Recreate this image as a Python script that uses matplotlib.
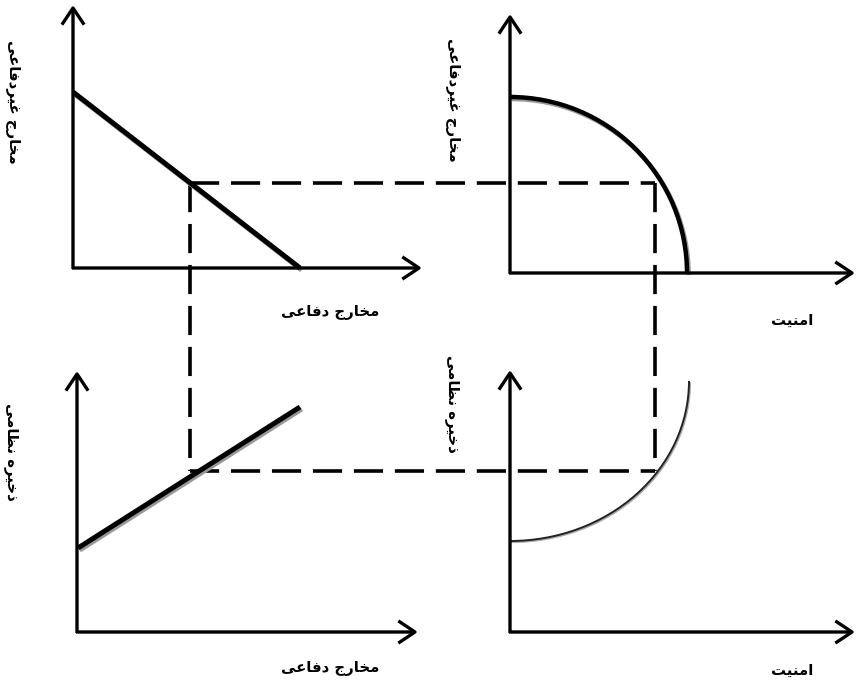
import matplotlib
matplotlib.use("Agg")
import matplotlib.pyplot as plt
import matplotlib.patheffects as pe
from matplotlib.patches import Arc

plt.rcParams['font.family'] = ['DejaVu Sans']
plt.rcParams['lines.scale_dashes'] = False

# --- diagram data (canvas units, y grows downwards) ---
# axes of the four panels: origin x, origin y, x-arrow tip, y-arrow tip
panel_origin_x = [73, 510, 77, 510]
panel_origin_y = [268, 273, 632, 632]
panel_xtip = [422, 855, 418, 855]
panel_ytip = [5, 14, 371, 370]

# top-left: defence vs non-defence spending
spend_x = [73, 300]
nondef_y = [92, 268]
# bottom-left: defence spending vs military stock
stock_x = [78, 300]
stock_y = [548, 407]

# top-right: security frontier (quarter ellipse)
frontier_center = (510, 273)
frontier_rx, frontier_ry = 177, 176
# bottom-right: security vs military stock (quarter ellipse)
stock_curve_center = (510, 381)
stock_curve_rx, stock_curve_ry = 179, 160

# dashed projection rectangle
guide_x = [190, 655]
guide_y = [183, 471]

# labels
lbl_nondef = "مخارج غیردفاعی"
lbl_def = "مخارج دفاعی"
lbl_security = "امنیت"
lbl_stock = "ذخیره نظامی"

# --- small arabic shaper (matplotlib lays text out left-to-right, unshaped) ---
FORMS = {
    'ا': ('\uFE8D', '\uFE8E', None, None),
    'ت': ('\uFE95', '\uFE96', '\uFE97', '\uFE98'),
    'ج': ('\uFE9D', '\uFE9E', '\uFE9F', '\uFEA0'),
    'خ': ('\uFEA5', '\uFEA6', '\uFEA7', '\uFEA8'),
    'د': ('\uFEA9', '\uFEAA', None, None),
    'ذ': ('\uFEAB', '\uFEAC', None, None),
    'ر': ('\uFEAD', '\uFEAE', None, None),
    'ظ': ('\uFEC5', '\uFEC6', '\uFEC7', '\uFEC8'),
    'ع': ('\uFEC9', '\uFECA', '\uFECB', '\uFECC'),
    'غ': ('\uFECD', '\uFECE', '\uFECF', '\uFED0'),
    'ف': ('\uFED1', '\uFED2', '\uFED3', '\uFED4'),
    'م': ('\uFEE1', '\uFEE2', '\uFEE3', '\uFEE4'),
    'ن': ('\uFEE5', '\uFEE6', '\uFEE7', '\uFEE8'),
    'ه': ('\uFEE9', '\uFEEA', '\uFEEB', '\uFEEC'),
    'ی': ('\uFBFC', '\uFBFD', '\uFBFE', '\uFBFF'),
}


def shape(text):
    out = []
    for i, ch in enumerate(text):
        if ch not in FORMS:
            out.append(ch)
            continue
        prev = text[i - 1] if i > 0 else ''
        nxt = text[i + 1] if i + 1 < len(text) else ''
        join_prev = prev in FORMS and FORMS[prev][2] is not None
        join_next = nxt in FORMS and FORMS[ch][2] is not None
        iso, fin, ini, med = FORMS[ch]
        if join_prev and join_next:
            out.append(med)
        elif join_prev:
            out.append(fin)
        elif join_next:
            out.append(ini)
        else:
            out.append(iso)
    return ''.join(out)[::-1]


fig = plt.figure(figsize=(8.57, 6.83), dpi=100)
ax = fig.add_axes([0, 0, 1, 1])
ax.set_xlim(0, 857)
ax.set_ylim(683, 0)
ax.axis('off')

shadow = [pe.SimpleLineShadow(offset=(1.2, -1.5), shadow_color='#999999', alpha=1), pe.Normal()]

# axes with open arrow heads
for ox, oy, xt, yt in zip(panel_origin_x, panel_origin_y, panel_xtip, panel_ytip):
    arrow = dict(arrowstyle='->, head_length=0.6, head_width=0.4', lw=2.4, color='black',
                 mutation_scale=20, shrinkA=0, shrinkB=0, capstyle='butt')
    ax.annotate('', xy=(xt, oy), xytext=(ox - 1, oy), arrowprops=arrow)
    ax.annotate('', xy=(ox, yt), xytext=(ox, oy + 1), arrowprops=arrow)

# dashed guides
dash = dict(color='black', lw=2.6, dashes=(21, 8.5), solid_capstyle='butt', dash_capstyle='butt')
ax.plot([guide_x[0], guide_x[1]], [guide_y[0], guide_y[0]], **dash)
ax.plot([guide_x[0], guide_x[1]], [guide_y[1], guide_y[1]], **dash)
ax.plot([guide_x[0], guide_x[0]], [guide_y[0], guide_y[1]], **dash)
ax.plot([guide_x[1], guide_x[1]], [guide_y[0], guide_y[1]], **dash)

# straight relations
ax.plot(spend_x, nondef_y, color='black', lw=3.6, solid_capstyle='butt', path_effects=shadow)
ax.plot(stock_x, stock_y, color='black', lw=3.6, solid_capstyle='butt', path_effects=shadow)

# curves
ax.add_patch(Arc(frontier_center, 2 * frontier_rx, 2 * frontier_ry, theta1=270, theta2=360,
                 color='black', lw=3.2, path_effects=shadow))
ax.add_patch(Arc(stock_curve_center, 2 * stock_curve_rx, 2 * stock_curve_ry, theta1=0, theta2=90,
                 color='#222222', lw=1.4,
                 path_effects=[pe.SimpleLineShadow(offset=(0.8, -0.8), shadow_color='#aaaaaa', alpha=1), pe.Normal()]))

# labels
font = dict(fontsize=10.7, fontweight='bold', ha='center', va='center')
ax.text(330, 312, shape(lbl_def), **font)
ax.text(330, 668, shape(lbl_def), **font)
ax.text(792, 320, shape(lbl_security), **font)
ax.text(792, 670, shape(lbl_security), **font)
ax.text(12, 102, shape(lbl_nondef), rotation=270, **font)
ax.text(453, 100, shape(lbl_nondef), rotation=270, **font)
ax.text(11, 452, shape(lbl_stock), rotation=270, **font)
ax.text(453, 404, shape(lbl_stock), rotation=270, **font)

fig.savefig('out.png', dpi=100, facecolor='white')
